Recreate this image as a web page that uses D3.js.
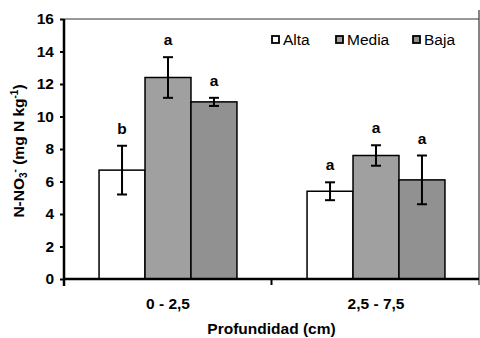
<!DOCTYPE html>
<html>
<head>
<meta charset="utf-8">
<script src="https://cdn.jsdelivr.net/npm/d3@7"></script>
<style>
  body { margin: 0; background: #fff; }
  svg { display: block; font-family: "Liberation Sans", Arial, sans-serif; }
</style>
</head>
<body>
<div id="grafico"></div>
<script>
// Datos
const profundidades = ["0 - 2,5", "2,5 - 7,5"];
const series = ["Alta", "Media", "Baja"];
const colores = ["#ffffff", "#a0a0a0", "#919191"];
const valores = [[6.7, 12.4, 10.9], [5.4, 7.6, 6.1]];
const errores = [[1.5, 1.25, 0.25], [0.55, 0.63, 1.5]];
const letras = [["b", "a", "a"], ["a", "a", "a"]];
const yTicks = [0, 2, 4, 6, 8, 10, 12, 14, 16];

const width = 480, height = 338;
const margin = {top: 19, right: 0, bottom: 60, left: 64};
const fs = "15.5px";

const svg = d3.select("#grafico").append("svg")
  .attr("width", width).attr("height", height);

// Escalas
const x0 = d3.scaleBand().domain(profundidades)
  .range([margin.left, width - margin.right])
  .paddingInner(0.337).paddingOuter(0.1685);
const x1 = d3.scaleBand().domain(series).range([0, x0.bandwidth()]);
const y = d3.scaleLinear().domain([0, 16]).range([height - margin.bottom + 1, margin.top]);

// Marco del area de trazado
svg.append("line").attr("x1", margin.left).attr("x2", 479)
  .attr("y1", y(16)).attr("y2", y(16)).attr("stroke", "#333").attr("stroke-width", 1.2);
svg.append("line").attr("x1", 479).attr("x2", 479)
  .attr("y1", 10).attr("y2", y(0) + 6).attr("stroke", "#333").attr("stroke-width", 1.2);

// Barras
const grupos = svg.selectAll("g.grupo").data(profundidades).join("g")
  .attr("class", "grupo")
  .attr("transform", d => `translate(${x0(d)},0)`);

grupos.each(function(p, i) {
  const g = d3.select(this);
  const filas = series.map((s, j) => ({s, j, v: valores[i][j], e: errores[i][j], l: letras[i][j]}));
  g.selectAll("rect").data(filas).join("rect")
    .attr("x", d => x1(d.s))
    .attr("y", d => y(d.v))
    .attr("width", x1.bandwidth())
    .attr("height", d => y(0) - y(d.v))
    .attr("fill", d => colores[d.j])
    .attr("stroke", "#000").attr("stroke-width", 1.5);

  // Barras de error
  const cx = d => x1(d.s) + x1.bandwidth() / 2;
  g.selectAll("line.err").data(filas).join("line").attr("class", "err")
    .attr("x1", cx).attr("x2", cx)
    .attr("y1", d => y(d.v + d.e)).attr("y2", d => y(d.v - d.e))
    .attr("stroke", "#000").attr("stroke-width", 2);
  ["+", "-"].forEach(sg => {
    g.selectAll("line.cap" + (sg === "+" ? "a" : "b")).data(filas).join("line")
      .attr("class", "cap" + (sg === "+" ? "a" : "b"))
      .attr("x1", d => cx(d) - 5).attr("x2", d => cx(d) + 5)
      .attr("y1", d => y(sg === "+" ? d.v + d.e : d.v - d.e))
      .attr("y2", d => y(sg === "+" ? d.v + d.e : d.v - d.e))
      .attr("stroke", "#000").attr("stroke-width", 2);
  });

  // Letras de significancia
  g.selectAll("text.letra").data(filas).join("text").attr("class", "letra")
    .attr("x", cx).attr("y", d => y(d.v + d.e) - 12)
    .attr("text-anchor", "middle")
    .style("font-size", fs).style("font-weight", "bold")
    .text(d => d.l);
});

// Eje Y
const ejeY = svg.append("g")
  .attr("transform", `translate(${margin.left},0)`)
  .call(d3.axisLeft(y).tickValues(yTicks).tickSize(4).tickPadding(6).tickFormat(d3.format("d")));
ejeY.select(".domain").attr("stroke-width", 2.5).attr("d", `M0,${y(16)}V${y(0) + 7}`);
ejeY.selectAll(".tick line").attr("stroke-width", 2);
ejeY.selectAll("text").style("font-size", fs).style("font-weight", "bold").attr("fill", "#000");

// Eje X
const ejeX = svg.append("g")
  .attr("transform", `translate(0,${y(0)})`)
  .call(d3.axisBottom(x0).tickSize(0).tickPadding(19));
ejeX.select(".domain").attr("stroke-width", 2.5).attr("d", `M${margin.left},0H479`);
ejeX.selectAll("text").style("font-size", fs).style("font-weight", "bold").attr("fill", "#000");
ejeX.append("line").attr("x1", (margin.left + 479) / 2 + 0).attr("x2", (margin.left + 479) / 2)
  .attr("y1", 0).attr("y2", 6).attr("stroke", "#000").attr("stroke-width", 2);

// Titulos de ejes
svg.append("text").attr("x", (margin.left + 479) / 2).attr("y", 334)
  .attr("text-anchor", "middle").style("font-size", fs).style("font-weight", "bold")
  .text("Profundidad (cm)");

const tituloY = svg.append("text")
  .attr("transform", `translate(24,${(y(0) + y(16)) / 2 + 2}) rotate(-90)`)
  .attr("text-anchor", "middle").style("font-size", fs).style("font-weight", "bold");
tituloY.append("tspan").text("N-NO");
tituloY.append("tspan").attr("dy", 3).style("font-size", "10px").text("3");
tituloY.append("tspan").attr("dy", -9).style("font-size", "10px").text("-");
tituloY.append("tspan").attr("dy", 6).text(" (mg N kg");
tituloY.append("tspan").attr("dy", -6).style("font-size", "10px").text("-1");
tituloY.append("tspan").attr("dy", 6).text(")");

// Leyenda
const leyenda = svg.append("g").selectAll("g").data(series).join("g")
  .attr("transform", (d, i) => `translate(${[272, 336, 413][i]},40)`);
leyenda.append("rect").attr("x", 0).attr("y", -4).attr("width", 7).attr("height", 7)
  .attr("fill", (d, i) => colores[i]).attr("stroke", "#000").attr("stroke-width", 1.8);
leyenda.append("text").attr("x", 11).attr("y", 5).style("font-size", fs).text(d => d);
</script>
</body>
</html>
